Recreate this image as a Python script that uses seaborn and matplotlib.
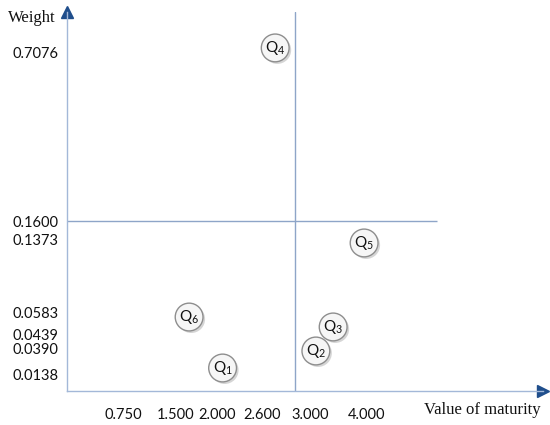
import numpy as np
import matplotlib
matplotlib.use("Agg")
import matplotlib.pyplot as plt
import matplotlib.patheffects as pe
from matplotlib.transforms import ScaledTranslation
import seaborn as sns

# Data
names = ["Q1", "Q2", "Q3", "Q4", "Q5", "Q6"]
maturity = [2.06, 3.29, 3.53, 2.64, 3.96, 1.66]
weight = [0.0196, 0.0361, 0.0485, 0.717, 0.133, 0.0550]

x_ticks = [0.750, 1.500, 2.000, 2.600, 3.000, 4.000]
y_ticks = [0.0138, 0.0390, 0.0439, 0.0583, 0.1373, 0.1600, 0.7076]

x_split = 3.000
y_split = 0.1600
h_line_end = 4.6

# non-linear axis layout (value -> screen distance), as in the original sketch
X_VAL = [0, 0.75, 1.5, 2.0, 2.6, 3.0, 4.0, 5.5]
X_POS = [0, 56, 109, 150, 206, 228, 300, 476]
Y_VAL = [0, 0.0138, 0.0390, 0.0439, 0.0583, 0.1373, 0.1600, 0.7076, 0.80]
Y_POS = [0, 17, 43, 57, 79, 152, 170, 339, 379]

sns.set_style("white")
plt.rcParams["font.family"] = ["Lato", "DejaVu Sans"]
plt.rcParams["mathtext.fontset"] = "custom"
plt.rcParams["mathtext.rm"] = "Lato"
plt.rcParams["mathtext.it"] = "Lato"

axis_col = "#a3b8d8"
arrow_col = "#1f4e8c"
line_col = "#8ea5c8"

fig = plt.figure(figsize=(5.5, 4.25), dpi=100)
ax = fig.add_axes([67 / 550, 34 / 425, 476 / 550, 379 / 425])

ax.set_xscale("function", functions=(lambda v: np.interp(v, X_VAL, X_POS),
                                     lambda p: np.interp(p, X_POS, X_VAL)))
ax.set_yscale("function", functions=(lambda v: np.interp(v, Y_VAL, Y_POS),
                                     lambda p: np.interp(p, Y_POS, Y_VAL)))
ax.set_xlim(0, X_VAL[-1])
ax.set_ylim(0, Y_VAL[-1])

# crosshair lines
ax.axvline(x_split, color=line_col, lw=1.0, zorder=1)
ax.hlines(y_split, 0, h_line_end, color=line_col, lw=1.0, zorder=1)

# points
sns.scatterplot(x=maturity, y=weight, ax=ax, s=400, color="#f6f6f6",
                edgecolor="#8e8e8e", linewidth=1.0, zorder=3,
                path_effects=[pe.SimplePatchShadow(offset=(1.5, -1.5),
                                                   shadow_rgbFace="#888888", alpha=0.35),
                              pe.Normal()])
for n, xv, yv in zip(names, maturity, weight):
    ax.text(xv, yv, "Q$_{%s}$" % n[1:], ha="center", va="center",
            fontsize=11, color="#111111", zorder=4)

# axes styling
for s in ["top", "right"]:
    ax.spines[s].set_visible(False)
for s in ["left", "bottom"]:
    ax.spines[s].set_color(axis_col)
    ax.spines[s].set_linewidth(1.0)
ax.plot(1, 0, marker=">", color=arrow_col, ms=9, transform=ax.transAxes, clip_on=False)
ax.plot(0, 1, marker="^", color=arrow_col, ms=9, transform=ax.transAxes, clip_on=False)

ax.set_xticks(x_ticks)
ax.set_xticklabels(["%.3f" % v for v in x_ticks])
ax.set_yticks(y_ticks)
ax.set_yticklabels(["%.4f" % v for v in y_ticks])
ax.minorticks_off()
ax.tick_params(axis="both", direction="in", length=4, color=axis_col,
               labelsize=10.5, labelcolor="#111111")
ax.tick_params(axis="x", pad=12)
ax.tick_params(axis="y", pad=6)

# nudge crowded x labels apart
for lab in ax.get_xticklabels():
    if lab.get_text() == "2.600":
        lab.set_transform(lab.get_transform() + ScaledTranslation(-11 / 100, 0, fig.dpi_scale_trans))
    if lab.get_text() == "3.000":
        lab.set_transform(lab.get_transform() + ScaledTranslation(15 / 100, 0, fig.dpi_scale_trans))

fig.text(32 / 550, 1 - 18 / 425, "Weight", family="Liberation Serif", fontsize=12,
         ha="center", va="center", color="#111111")
fig.text(482 / 550, 1 - 410 / 425, "Value of maturity", family="Liberation Serif",
         fontsize=12, ha="center", va="center", color="#111111")

fig.savefig("out.png", dpi=100)
